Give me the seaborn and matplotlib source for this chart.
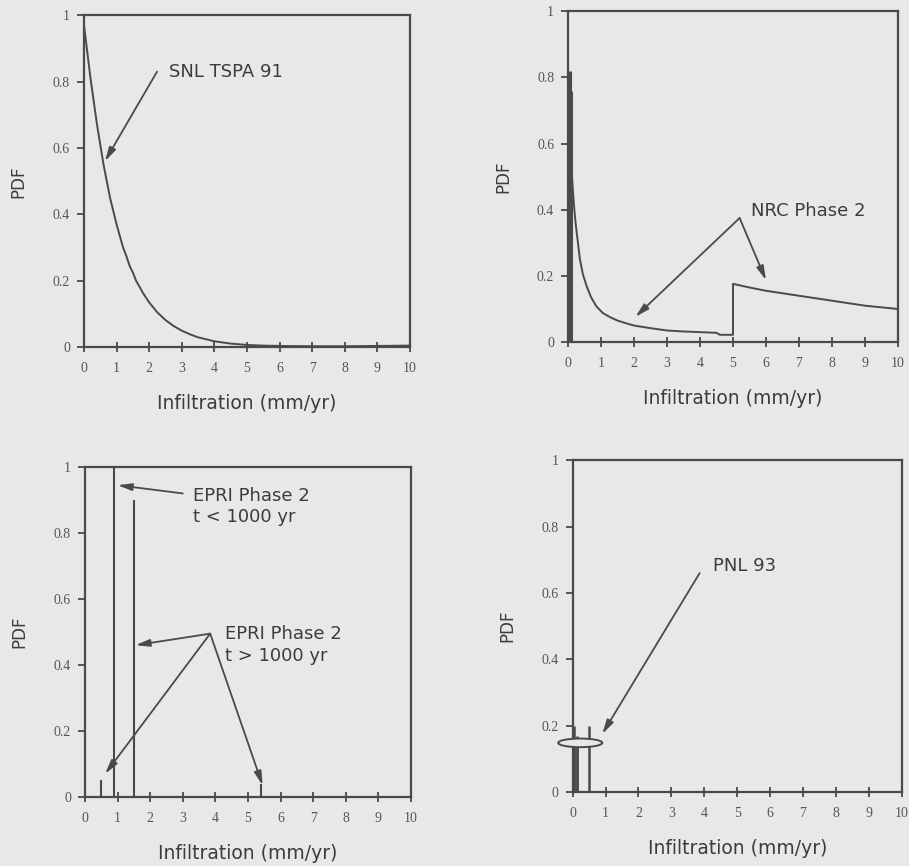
import matplotlib
matplotlib.use("Agg")
import matplotlib.pyplot as plt
from matplotlib.patches import Ellipse
import seaborn as sns
import pandas as pd

# SNL TSPA 91 infiltration PDF
snl_x = [0, 0.1, 0.2, 0.3, 0.4, 0.5, 0.6, 0.7, 0.8, 0.9, 1.0, 1.1, 1.2, 1.3,
         1.4, 1.5, 1.6, 1.7, 1.8, 1.9, 2.0, 2.25, 2.5, 2.75, 3.0, 3.25, 3.5,
         3.75, 4.0, 4.5, 5.0, 5.5, 6.0, 7.0, 8.0, 9.0, 10.0]
snl_y = [0.97, 0.89, 0.81, 0.74, 0.67, 0.61, 0.55, 0.50, 0.45, 0.41, 0.37,
         0.335, 0.30, 0.275, 0.245, 0.225, 0.20, 0.183, 0.165, 0.15, 0.135,
         0.105, 0.082, 0.064, 0.05, 0.039, 0.03, 0.024, 0.018, 0.011, 0.007,
         0.005, 0.004, 0.003, 0.003, 0.004, 0.005]

# NRC Phase 2: narrow spike near zero, then two continuous branches
nrc_spike_x = [0.07, 0.10]
nrc_spike_y = [0.82, 0.76]
nrc_x = [0.12, 0.16, 0.20, 0.24, 0.30, 0.36, 0.45, 0.56, 0.70, 0.86, 1.05,
         1.28, 1.5, 1.75, 2.0, 2.5, 3.0, 3.5, 4.0, 4.5, 4.6, 4.98, 5.0, 5.0,
         5.5, 6.0, 7.0, 8.0, 9.0, 10.0]
nrc_y = [0.50, 0.44, 0.39, 0.35, 0.30, 0.25, 0.205, 0.17, 0.135, 0.108,
         0.088, 0.075, 0.065, 0.057, 0.05, 0.042, 0.035, 0.032, 0.03, 0.028,
         0.022, 0.022, 0.022, 0.176, 0.165, 0.155, 0.14, 0.125, 0.11, 0.10]

# EPRI Phase 2 discrete distributions
epri_lt_x = [0.9]
epri_lt_y = [1.0]
epri_gt_x = [0.5, 1.5, 5.4]
epri_gt_y = [0.05, 0.9, 0.04]

# PNL 93 discrete distribution
pnl_x = [0.05, 0.12, 0.5]
pnl_y = [0.20, 0.17, 0.20]

x_ticks = list(range(0, 11))
y_ticks = [0, 0.2, 0.4, 0.6, 0.8, 1]
y_tick_labels = ["0", "0.2", "0.4", "0.6", "0.8", "1"]

sns.set_theme(style="ticks")
plt.rcParams["font.family"] = ["DejaVu Sans"]

paper = "#e8e8e6"
ink = "#4a4a4a"
text_c = "#3c3c3c"

fig = plt.figure(figsize=(9.09, 8.66), dpi=100, facecolor=paper)

rects = [
    [0.0924, 0.599, 0.3586, 0.3834],
    [0.6249, 0.605, 0.3630, 0.3820],
    [0.0935, 0.0797, 0.3586, 0.3810],
    [0.6300, 0.0855, 0.3620, 0.3830],
]
axes = [fig.add_axes(r) for r in rects]

arrow_kw = dict(arrowstyle="-|>,head_length=0.7,head_width=0.18",
                color=ink, lw=1.3, shrinkA=0, shrinkB=0)


def style(ax):
    ax.set_facecolor(paper)
    ax.set_xlim(0, 10)
    ax.set_ylim(0, 1)
    ax.set_xticks(x_ticks)
    ax.set_xticklabels([str(t) for t in x_ticks])
    ax.set_yticks(y_ticks)
    ax.set_yticklabels(y_tick_labels)
    for sp in ax.spines.values():
        sp.set_visible(True)
        sp.set_color(ink)
        sp.set_linewidth(1.6)
    ax.tick_params(axis="x", direction="inout", length=7, width=1.3,
                   color=ink, pad=7, labelsize=10, labelcolor="#555555")
    ax.tick_params(axis="y", direction="out", length=5, width=1.3,
                   color=ink, pad=5, labelsize=10, labelcolor="#555555")
    for lab in ax.get_xticklabels() + ax.get_yticklabels():
        lab.set_family("Liberation Serif")
    ax.set_xlabel("Infiltration (mm/yr)", fontsize=13.5, color=text_c,
                  labelpad=14)
    ax.set_ylabel("PDF", fontsize=12, color=text_c, labelpad=18)


# Panel 1: SNL TSPA 91
ax = axes[0]
df = pd.DataFrame({"x": snl_x, "y": snl_y})
sns.lineplot(data=df, x="x", y="y", ax=ax, color=ink, lw=1.4,
             sort=False, estimator=None)
style(ax)
ax.text(2.6, 0.83, "SNL TSPA 91", fontsize=13, color=text_c, va="center")
ax.annotate("", xy=(0.64, 0.56), xytext=(2.24, 0.83), arrowprops=arrow_kw)

# Panel 2: NRC Phase 2
ax = axes[1]
ax.vlines(nrc_spike_x, 0, nrc_spike_y, color=ink, lw=2.2)
df = pd.DataFrame({"x": nrc_x, "y": nrc_y})
sns.lineplot(data=df, x="x", y="y", ax=ax, color=ink, lw=1.4,
             sort=False, estimator=None)
style(ax)
ax.text(5.55, 0.395, "NRC Phase 2", fontsize=13, color=text_c, va="center")
ax.annotate("", xy=(2.04, 0.076), xytext=(5.2, 0.375), arrowprops=arrow_kw)
ax.annotate("", xy=(6.0, 0.187), xytext=(5.2, 0.375), arrowprops=arrow_kw)

# Panel 3: EPRI Phase 2
ax = axes[2]
ax.vlines(epri_lt_x, 0, epri_lt_y, color=ink, lw=1.5)
ax.vlines(epri_gt_x, 0, epri_gt_y, color=ink, lw=1.5)
style(ax)
ax.text(3.3, 0.88, "EPRI Phase 2\nt < 1000 yr", fontsize=13, color=text_c,
        va="center", linespacing=1.25)
ax.annotate("", xy=(1.0, 0.945), xytext=(3.0, 0.92), arrowprops=arrow_kw)
ax.text(4.3, 0.46, "EPRI Phase 2\nt > 1000 yr", fontsize=13, color=text_c,
        va="center", linespacing=1.25)
for tip in [(1.55, 0.46), (0.62, 0.07), (5.45, 0.035)]:
    ax.annotate("", xy=tip, xytext=(3.84, 0.495), arrowprops=arrow_kw)

# Panel 4: PNL 93
ax = axes[3]
ax.vlines(pnl_x, 0, pnl_y, color=ink, lw=1.8)
style(ax)
ax.add_patch(Ellipse((0.23, 0.148), 1.34, 0.026, fill=True, facecolor=paper,
                     edgecolor=ink, lw=1.4, clip_on=False, zorder=5))
ax.vlines(pnl_x[:2], 0, 0.135, color=ink, lw=1.8, zorder=6)
ax.text(4.25, 0.68, "PNL 93", fontsize=13, color=text_c, va="center")
ax.annotate("", xy=(0.9, 0.175), xytext=(3.86, 0.66), arrowprops=arrow_kw)

fig.savefig("out.png", dpi=100, facecolor=paper)
